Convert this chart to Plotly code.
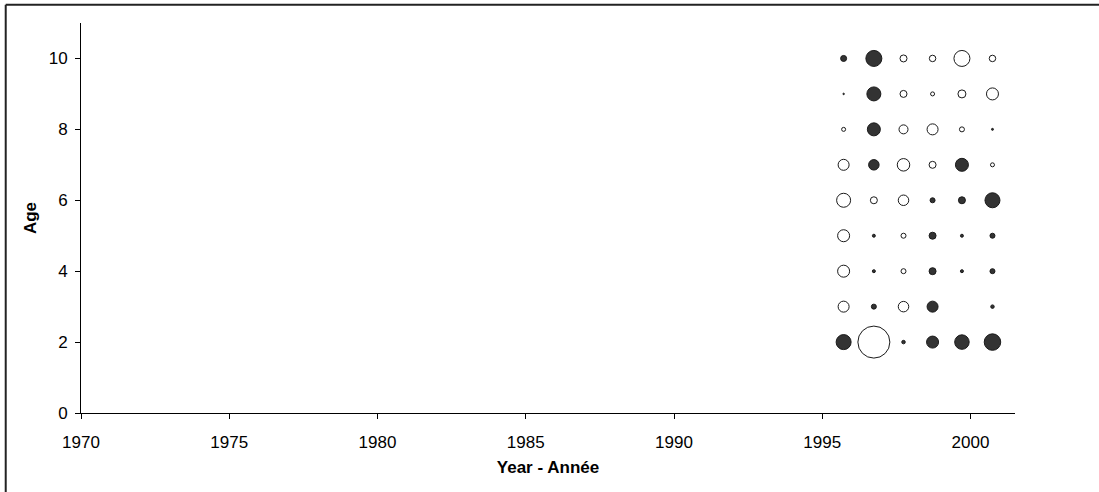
import plotly.graph_objects as go

# Column positions (years on the axis)
years = [1995.72, 1996.74, 1997.74, 1998.72, 1999.71, 2000.74]
ages = [2, 3, 4, 5, 6, 7, 8, 9, 10]

# Signed residual magnitudes (positive = filled, negative = open), None = missing
res_age2 = [15, -32, 3.5, 12, 14.5, 16.5]
res_age3 = [-11, 5, -10.5, 11, None, 3.5]
res_age4 = [-12, 3, -5, 7, 3, 5]
res_age5 = [-12, 3, -5, 7, 3, 5]
res_age6 = [-14, -7, -10.5, 5, 7, 15]
res_age7 = [-11, 10.5, -12.5, -7, 13, -4]
res_age8 = [-4, 13, -9, -11, -5, 2]
res_age9 = [1.5, 14, -7, -4, -8, -12]
res_age10 = [6, 16, -7, -6.5, -16, -6.5]
residuals = [res_age2, res_age3, res_age4, res_age5, res_age6,
             res_age7, res_age8, res_age9, res_age10]

x_ticks = [1970, 1975, 1980, 1985, 1990, 1995, 2000]
y_ticks = [0, 2, 4, 6, 8, 10]

xs, ys, sizes, fills = [], [], [], []
for age, row in zip(ages, residuals):
    for yr, v in zip(years, row):
        if v is None:
            continue
        xs.append(yr)
        ys.append(age)
        sizes.append(abs(v))
        fills.append("#333333" if v > 0 else "#ffffff")

fig = go.Figure()
fig.add_trace(go.Scatter(
    x=xs, y=ys, mode="markers",
    marker=dict(size=sizes, sizemode="diameter", color=fills,
                line=dict(color="#1a1a1a", width=1), opacity=1),
    showlegend=False, hoverinfo="skip",
))

font_family = "Liberation Sans, Arial, sans-serif"
fig.update_layout(
    width=1099, height=492,
    margin=dict(l=81, r=84, t=23, b=79),
    paper_bgcolor="white", plot_bgcolor="white",
    font=dict(family=font_family, color="#000000", size=17),
    xaxis=dict(
        range=[1970, 2001.5], tickvals=x_ticks, ticktext=[str(t) for t in x_ticks],
        showgrid=False, zeroline=False, showline=True, linecolor="#000000", linewidth=1,
        ticks="outside", ticklen=5, tickcolor="#000000", tickwidth=1,
        ticklabelstandoff=9,
        tickfont=dict(size=17, family=font_family, color="#000000"),
        title=dict(text="<b>Year - Année</b>", font=dict(size=17, family=font_family, color="#000000"), standoff=9),
    ),
    yaxis=dict(
        range=[0, 11], tickvals=y_ticks, ticktext=[str(t) for t in y_ticks],
        showgrid=False, zeroline=False, showline=True, linecolor="#000000", linewidth=1,
        ticks="outside", ticklen=5, tickcolor="#000000", tickwidth=1,
        ticklabelstandoff=4,
        tickfont=dict(size=17, family=font_family, color="#000000"),
        title=dict(text="<b>Age</b>", font=dict(size=17, family=font_family, color="#000000"), standoff=7),
    ),
    shapes=[
        dict(type="line", xref="paper", yref="paper", x0=-0.0806, x1=-0.0806, y0=1.047, y1=-0.25,
             line=dict(color="#222222", width=2)),
        dict(type="line", xref="paper", yref="paper", x0=-0.0806, x1=1.1, y0=1.047, y1=1.047,
             line=dict(color="#222222", width=2)),
    ],
)

fig.write_html("out.html")
